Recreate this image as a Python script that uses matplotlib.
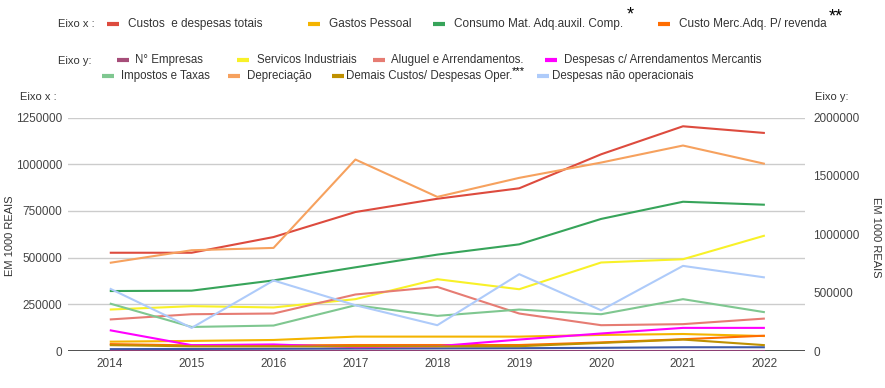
import matplotlib
matplotlib.use("Agg")
import matplotlib.pyplot as plt
from matplotlib.lines import Line2D

plt.rcParams['font.family'] = ['Liberation Sans', 'DejaVu Sans']

years = [2014, 2015, 2016, 2017, 2018, 2019, 2020, 2021, 2022]

# Eixo x (left axis)
custos_totais = [526000, 526000, 610000, 744000, 815000, 871000, 1053000, 1203000, 1167000]
gastos_pessoal = [50000, 54000, 59000, 77000, 77000, 77000, 86000, 91000, 80000]
consumo_mat = [321000, 323000, 378000, 448000, 516000, 571000, 707000, 799000, 783000]
custo_merc = [37000, 30000, 30000, 32000, 32000, 32000, 46000, 63000, 82000]
serie_azul = [10000, 11000, 12000, 13000, 14000, 15000, 17000, 20000, 20000]

# Eixo y (right axis)
n_empresas = [3000, 3000, 3000, 3000, 3000, 3000, 3000, 3000, 3000]
servicos_ind = [355000, 384000, 373000, 444000, 615000, 529000, 758000, 786000, 989000]
aluguel = [270000, 315000, 321000, 484000, 549000, 321000, 221000, 230000, 278000]
arrend_merc = [178000, 50000, 56000, 33000, 41000, 98000, 150000, 198000, 198000]
impostos = [407000, 206000, 218000, 392000, 301000, 355000, 315000, 444000, 332000]
depreciacao = [755000, 863000, 883000, 1640000, 1320000, 1483000, 1614000, 1760000, 1603000]
demais_custos = [50000, 40000, 40000, 40000, 40000, 41000, 69000, 98000, 50000]
desp_nao_op = [535000, 198000, 604000, 392000, 221000, 658000, 349000, 729000, 630000]

left_ticks = [0, 250000, 500000, 750000, 1000000, 1250000]
right_ticks = [0, 500000, 1000000, 1500000, 2000000]

W, H = 885, 388
fig = plt.figure(figsize=(W / 100, H / 100), dpi=100)

def fx(x):
    return x / W

def fy(y):
    return 1 - y / H

ax_l, ax_r, ax_t, ax_b = 68, 805, 117.5, 351
ax = fig.add_axes([fx(ax_l), fy(ax_b), fx(ax_r) - fx(ax_l), fy(ax_t) - fy(ax_b)])
ax2 = ax.twinx()

left_series = [
    (custos_totais, '#dd4b3e'),
    (gastos_pessoal, '#f4b400'),
    (consumo_mat, '#37a45a'),
    (custo_merc, '#ff6d01'),
    (serie_azul, '#3c5ba8'),
]
right_series = [
    (n_empresas, '#8e3f73'),
    (servicos_ind, '#f8f128'),
    (aluguel, '#e67c73'),
    (arrend_merc, '#ff00ff'),
    (impostos, '#7fc790'),
    (depreciacao, '#f6a15e'),
    (demais_custos, '#bf9000'),
    (desp_nao_op, '#aecbfa'),
]

for vals, c in left_series:
    ax.plot(years, vals, color=c, lw=1.5, solid_capstyle='butt', zorder=3)
for vals, c in right_series:
    ax2.plot(years, vals, color=c, lw=1.5, solid_capstyle='butt', zorder=3)

ax.set_xlim(2013.49, 2022.49)
ax.set_ylim(0, 1250000)
ax2.set_ylim(0, 2000000)
ax.set_yticks(left_ticks)
ax.set_yticklabels([str(v) for v in left_ticks])
ax2.set_yticks(right_ticks)
ax2.set_yticklabels([str(v) for v in right_ticks])
ax.set_xticks(years)
ax.set_xticklabels([str(y) for y in years])

ax.grid(axis='y', color='#cccccc', lw=1)
ax.grid(axis='x', visible=False)
ax.set_axisbelow(True)
for a in (ax, ax2):
    for s in a.spines.values():
        s.set_visible(False)
ax.axhline(0, color='#333333', lw=1.2, zorder=4)

ax.tick_params(axis='y', length=0, pad=4, labelsize=8.5, labelcolor='#444444')
ax2.tick_params(axis='y', length=0, pad=6, labelsize=8.5, labelcolor='#444444')
ax.tick_params(axis='x', length=0, pad=5, labelsize=8.5, labelcolor='#444444')

tc = '#333333'
fig.text(fx(10), fy(236), 'EM 1000 REAIS', rotation=90, ha='center', va='center', fontsize=8, color=tc)
fig.text(fx(876), fy(237), 'EM 1000 REAIS', rotation=270, ha='center', va='center', fontsize=8, color=tc)
fig.text(fx(20), fy(97), 'Eixo x :', ha='left', va='center', fontsize=8, color=tc)
fig.text(fx(815), fy(97), 'Eixo y:', ha='left', va='center', fontsize=8, color=tc)

# Legend (manual)
def entry(px, py, color, label, size, tx):
    fig.add_artist(Line2D([fx(px), fx(px + 12)], [fy(py), fy(py)], color=color, lw=3,
                          solid_capstyle='butt', transform=fig.transFigure))
    fig.text(fx(tx), fy(py), label, ha='left', va='center', fontsize=size, color=tc)

s1 = 8.5
s2 = 8.3
fig.text(fx(58), fy(24), 'Eixo x :', ha='left', va='center', fontsize=8, color=tc)
entry(107, 24, '#dd4b3e', 'Custos  e despesas totais', s1, 128)
entry(308, 24, '#f4b400', 'Gastos Pessoal', s1, 329)
entry(433, 24, '#37a45a', 'Consumo Mat. Adq.auxil. Comp.', s1, 454)
fig.text(fx(627), fy(15), '*', ha='left', va='center', fontsize=13, color='#000000')
entry(658, 24, '#ff6d01', 'Custo Merc.Adq. P/ revenda', s1, 679)
fig.text(fx(829), fy(17), '**', ha='left', va='center', fontsize=13, color='#000000')

fig.text(fx(58), fy(61), 'Eixo y:', ha='left', va='center', fontsize=8, color=tc)
entry(117, 60, '#a64d79', 'N° Empresas', s2, 135)
entry(237, 60, '#f8f128', 'Servicos Industriais', s2, 257)
entry(373, 60, '#e67c73', 'Aluguel e Arrendamentos.', s2, 391)
entry(545, 60, '#ff00ff', 'Despesas c/ Arrendamentos Mercantis', s2, 564)
entry(102, 76, '#7fc790', 'Impostos e Taxas', s2, 121)
entry(228, 76, '#f6a15e', 'Depreciação', s2, 247)
entry(332, 76, '#bf9000', 'Demais Custos/ Despesas Oper.', s2, 346)
fig.text(fx(512), fy(71), '***', ha='left', va='center', fontsize=8, color='#000000')
entry(537, 76, '#aecbfa', 'Despesas não operacionais', s2, 552)

fig.savefig('out.png', dpi=100)
